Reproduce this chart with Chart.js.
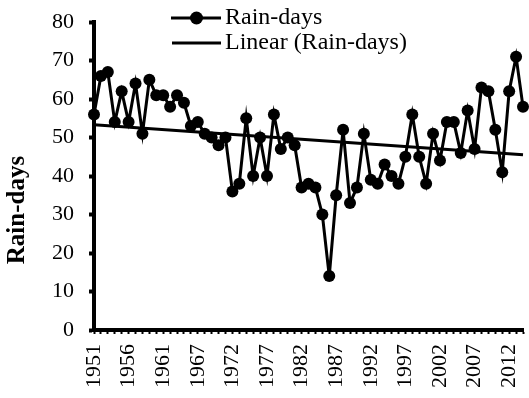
<!DOCTYPE html>
<html>
<head>
<meta charset="utf-8">
<script src="https://cdn.jsdelivr.net/npm/chart.js@4.4.1/dist/chart.umd.min.js"></script>
<style>
html, body { margin: 0; padding: 0; background: #fff; }
#wrap { width: 529px; height: 398px; }
</style>
</head>
<body>
<div id="wrap"><canvas id="chart"></canvas></div>
<script>
// ── Data ──────────────────────────────────────────────────────────────────
const years = [
    '1951', '1952', '1953', '1954', '1955', '1956', '1957', '1958', '1959', '1960',
    '1961', '1963', '1964', '1965', '1966', '1967', '1968', '1969', '1970', '1971',
    '1972', '1973', '1974', '1975', '1976', '1977', '1978', '1979', '1980', '1981',
    '1982', '1983', '1984', '1985', '1986', '1987', '1988', '1989', '1990', '1991',
    '1992', '1993', '1994', '1995', '1996', '1997', '1998', '1999', '2000', '2001',
    '2002', '2003', '2004', '2005', '2006', '2007', '2008', '2009', '2010', '2011',
    '2012', '2013', '2014',
];
const rainDays = [
    56, 66, 67, 54, 62, 54, 64, 51, 65, 61,
    61, 58, 61, 59, 53, 54, 51, 50, 48, 50,
    36, 38, 55, 40, 50, 40, 56, 47, 50, 48,
    37, 38, 37, 30, 14, 35, 52, 33, 37, 51,
    39, 38, 43, 40, 38, 45, 56, 45, 38, 51,
    44, 54, 54, 46, 57, 47, 63, 62, 52, 41,
    62, 71, 58,
];
// trend line end values
const trendYears = ['1951', '2014'];
const trendValues = [53.3, 45.5];
const yTicks = [0, 10, 20, 30, 40, 50, 60, 70, 80];

const seriesLabel = 'Rain-days';
const trendLabel = 'Linear (Rain-days)';
const FONT = '"Liberation Serif", "Times New Roman", serif';

// ── Custom legend + axis title ────────────────────────────────────────────
const overlay = {
    id: 'overlay',
    afterDraw(chart) {
        const ctx = chart.ctx;
        ctx.save();
        ctx.fillStyle = '#000';
        ctx.strokeStyle = '#000';

        // legend
        ctx.lineWidth = 3;
        ctx.beginPath();
        ctx.moveTo(171, 18);
        ctx.lineTo(221, 18);
        ctx.moveTo(172, 43);
        ctx.lineTo(221, 43);
        ctx.stroke();
        ctx.beginPath();
        ctx.arc(196.5, 18, 6.5, 0, Math.PI * 2);
        ctx.fill();
        ctx.font = '24px ' + FONT;
        ctx.textAlign = 'left';
        ctx.textBaseline = 'middle';
        ctx.fillText(seriesLabel, 225, 18);
        ctx.fillText(trendLabel, 225, 43);

        // y title
        ctx.translate(18, 210);
        ctx.rotate(-Math.PI / 2);
        ctx.font = 'bold 25px ' + FONT;
        ctx.textAlign = 'center';
        ctx.fillText(seriesLabel, 0, 0);
        ctx.restore();
    },
};

new Chart(document.getElementById('chart'), {
    type: 'line',
    data: {
        labels: years,
        datasets: [
            {
                label: seriesLabel,
                data: rainDays,
                borderColor: '#000',
                backgroundColor: '#000',
                borderWidth: 3,
                pointRadius: 6,
                pointBorderWidth: 0,
                pointBackgroundColor: '#000',
                tension: 0,
                clip: false,
            },
            {
                label: trendLabel,
                data: trendYears.map((y, i) => ({ x: y, y: trendValues[i] })),
                borderColor: '#000',
                borderWidth: 3,
                pointRadius: 0,
                tension: 0,
                clip: false,
            },
        ],
    },
    options: {
        responsive: true,
        maintainAspectRatio: false,
        animation: false,
        layout: { padding: { top: 22, right: 3, left: 0, bottom: 0 } },
        plugins: {
            legend: { display: false },
            tooltip: { enabled: false },
        },
        scales: {
            x: {
                type: 'category',
                offset: false,
                border: { display: true, color: '#000', width: 4 },
                grid: {
                    display: true,
                    drawOnChartArea: false,
                    drawTicks: true,
                    tickLength: 4,
                    tickWidth: 2,
                    tickColor: '#000',
                    color: '#000',
                },
                ticks: {
                    autoSkip: false,
                    maxRotation: 90,
                    minRotation: 90,
                    padding: 10,
                    color: '#000',
                    font: { family: FONT, size: 22 },
                    callback: (v, i) => (i % 5 === 0 ? years[i] : ''),
                },
                afterFit: (s) => {
                    s.height = 68;
                    s.paddingLeft = 0;
                    s.paddingRight = 0;
                },
            },
            y: {
                min: 0,
                max: 80,
                border: { display: true, color: '#000', width: 4 },
                grid: {
                    display: true,
                    drawOnChartArea: false,
                    drawTicks: true,
                    tickLength: 5,
                    tickWidth: 4,
                    tickColor: '#000',
                    color: '#000',
                },
                afterBuildTicks: (s) => { s.ticks = yTicks.map((v) => ({ value: v })); },
                ticks: {
                    padding: 15,
                    color: '#000',
                    font: { family: FONT, size: 22 },
                },
                afterFit: (s) => {
                    s.width = 94;
                    s.paddingTop = 0;
                    s.paddingBottom = 0;
                },
            },
        },
    },
    plugins: [overlay],
});
</script>
</body>
</html>
